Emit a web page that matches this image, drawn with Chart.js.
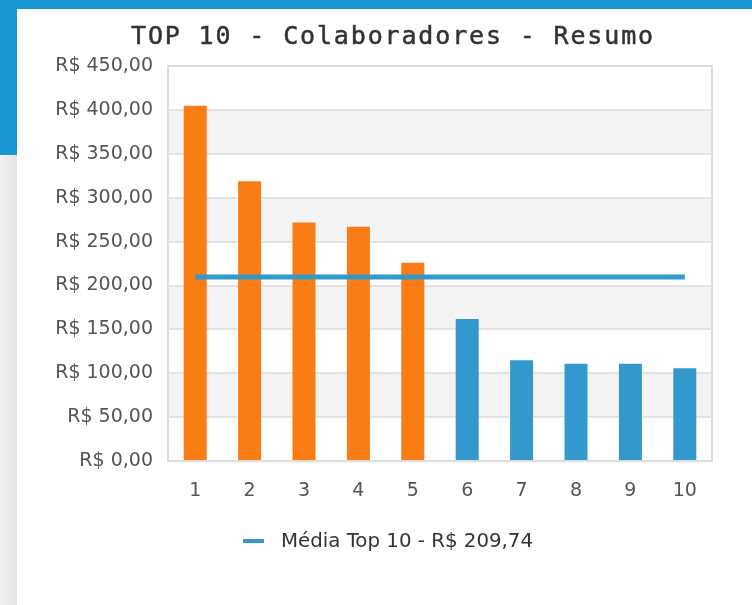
<!DOCTYPE html>
<html>
<head>
<meta charset="utf-8">
<script src="https://cdn.jsdelivr.net/npm/chart.js@4/dist/chart.umd.min.js"></script>
<style>
    body { margin: 0; width: 752px; height: 605px; overflow: hidden; background: #ececec; position: relative; }
    .topo { position: absolute; left: 0; top: 0; width: 752px; height: 155px; background: #1797d3; }
    .lado { position: absolute; left: 0; top: 155px; width: 17px; height: 450px; background: linear-gradient(to right, #f2f2f2, #e4e4e4); }
    .card { position: absolute; left: 17px; top: 9px; width: 735px; height: 596px; background: #fff; }
    .card canvas { position: absolute; left: 0; top: 0; }
    .titulo { position: absolute; left: 0; top: 21px; width: 786px; text-align: center; font: 25px 'DejaVu Sans Mono', monospace; -webkit-text-stroke: 0.5px #333; letter-spacing: 1.85px; color: #333; line-height: 30px; }
    .legenda { position: absolute; left: 0; top: 529px; width: 776px; text-align: center; font: 19.8px 'DejaVu Sans', sans-serif; color: #333; line-height: 24px; }
    .legenda .marca { display: inline-block; width: 21px; height: 4px; background: #3399cc; vertical-align: middle; margin-right: 17px; position: relative; top: -1px; }
</style>
</head>
<body>
<div class="topo"></div>
<div class="lado"></div>
<div class="card">
    <canvas id="graficoTop10" width="735" height="596"></canvas>
</div>
<div class="titulo">TOP 10 - Colaboradores - Resumo</div>
<div class="legenda" id="legenda"></div>
<script>
// Dados do gráfico
const posicoes = ['1', '2', '3', '4', '5', '6', '7', '8', '9', '10'];
const valores = [406, 320, 273, 268, 227, 163, 116, 112, 112, 107];
const mediaTop10 = [209.74, 209.74, 209.74, 209.74, 209.74, 209.74, 209.74, 209.74, 209.74, 209.74];
const coresBarras = ['#f97c14', '#f97c14', '#f97c14', '#f97c14', '#f97c14', '#3399cc', '#3399cc', '#3399cc', '#3399cc', '#3399cc'];
const legendaMedia = 'Média Top 10 - R$ 209,74';

function formataReal(v) {
    return 'R$ ' + v.toFixed(2).replace('.', ',');
}

// Faixas alternadas no fundo do gráfico
const faixas = {
    id: 'faixas',
    beforeDraw(chart) {
        const { ctx, chartArea, scales } = chart;
        const y = scales.y;
        ctx.save();
        ctx.fillStyle = '#f3f3f3';
        for (let v = 50; v < 450; v += 100) {
            const y1 = y.getPixelForValue(v + 50);
            const y2 = y.getPixelForValue(v);
            ctx.fillRect(chartArea.left, y1, chartArea.right - chartArea.left, y2 - y1);
        }
        ctx.restore();
    }
};

const borda = {
    id: 'borda',
    afterDraw(chart) {
        const { ctx, chartArea } = chart;
        ctx.save();
        ctx.strokeStyle = '#dddddd';
        ctx.lineWidth = 2;
        ctx.strokeRect(chartArea.left, chartArea.top, chartArea.right - chartArea.left, chartArea.bottom - chartArea.top);
        ctx.restore();
    }
};

const ctx = document.getElementById('graficoTop10').getContext('2d');
const grafico = new Chart(ctx, {
    data: {
        labels: posicoes,
        datasets: [
            {
                type: 'line',
                label: legendaMedia,
                data: mediaTop10,
                borderColor: '#3399cc',
                backgroundColor: '#3399cc',
                borderWidth: 5,
                pointRadius: 0,
                order: 0
            },
            {
                type: 'bar',
                label: 'Valores',
                data: valores,
                backgroundColor: coresBarras,
                borderColor: 'rgba(255,255,255,0.35)',
                borderWidth: 1,
                barPercentage: 0.46,
                categoryPercentage: 1,
                order: 1
            }
        ]
    },
    options: {
        responsive: false,
        animation: false,
        layout: { padding: { left: 0, right: 40, top: 57, bottom: 85 } },
        plugins: {
            legend: { display: false },
            tooltip: { enabled: false }
        },
        scales: {
            x: {
                grid: { display: false, drawTicks: false },
                border: { color: '#dddddd', width: 2 },
                ticks: { color: '#555', padding: 18, font: { family: 'DejaVu Sans', size: 19 } }
            },
            y: {
                min: 0,
                max: 450,
                afterFit: scale => { scale.width = 151; },
                grid: { color: '#e2e2e2', lineWidth: 2, drawTicks: false },
                border: { color: '#dddddd', width: 2 },
                ticks: {
                    stepSize: 50,
                    color: '#555',
                    padding: 15,
                    font: { family: 'DejaVu Sans', size: 19 },
                    callback: v => formataReal(v)
                }
            }
        }
    },
    plugins: [faixas, borda]
});

// Legenda em HTML só com a linha da média
const linha = grafico.data.datasets[0];
document.getElementById('legenda').innerHTML =
    `<span class="marca" style="background:${linha.borderColor}"></span>${linha.label}`;
</script>
</body>
</html>
